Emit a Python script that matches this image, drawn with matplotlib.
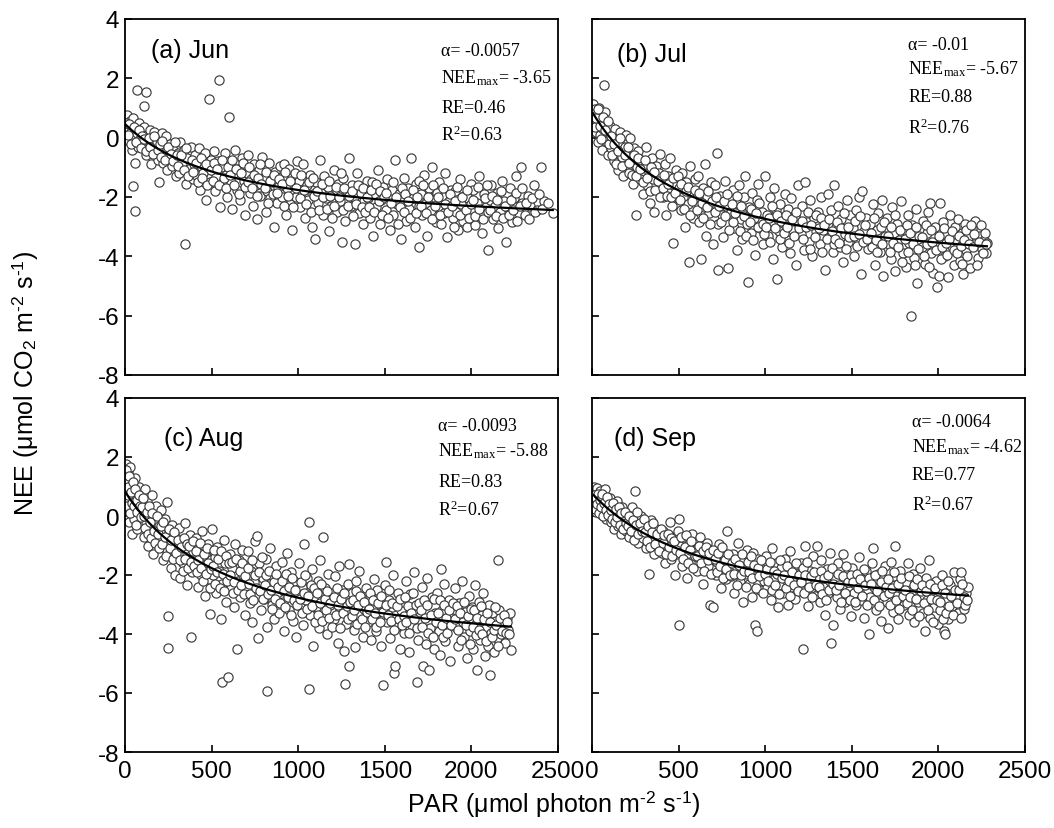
import matplotlib
matplotlib.use("Agg")
import matplotlib.pyplot as plt
import numpy as np

plt.rcParams["font.family"] = ["Liberation Sans", "DejaVu Sans"]
plt.rcParams["mathtext.fontset"] = "custom"
plt.rcParams["mathtext.rm"] = "Liberation Serif"
plt.rcParams["mathtext.it"] = "Liberation Serif:italic"
plt.rcParams["mathtext.bf"] = "Liberation Serif:bold"
plt.rcParams["mathtext.sf"] = "Liberation Sans"
plt.rcParams["axes.unicode_minus"] = False

# ---- half-hourly NEE vs PAR observations (PAR, NEE) ----
jun_obs = [
    (10, 0.75), (18, 0.35), (22, -0.1), (28, 0.55), (35, 0.2), (40, -0.4), (45, 0.65), (52, 0.0),
    (58, -0.85), (62, 0.4), (70, 0.15), (75, -0.3), (82, 0.5), (88, -0.05), (95, 0.3), (46, -1.63),
    (58, -2.47), (69, 1.6), (121, 1.54), (110, 1.07),
    (105, -0.2), (112, 0.35), (120, -0.6), (128, 0.1), (135, -0.35), (142, 0.25), (150, -0.9),
    (158, -0.1), (166, 0.2), (175, -0.5), (183, -0.15), (192, -0.75), (196, -1.5),
    (205, -0.3), (212, 0.15), (220, -0.85), (228, -0.45), (236, 0.05), (245, -1.1), (252, -0.6),
    (260, -0.2), (270, -0.95), (280, -0.4), (292, -1.3),
    (305, -0.5), (312, -1.2), (320, -0.15), (330, -0.85), (338, -0.4), (346, -3.58), (350, -1.55),
    (360, -0.7), (370, -1.05), (380, -0.3), (392, -1.4), (398, -0.9),
    (405, -0.6), (415, -1.3), (425, -0.35), (432, -1.75), (440, -0.95), (450, -1.2), (460, -0.5),
    (470, -2.1), (478, -1.0), (485, 1.3), (490, -1.5), (497, -0.75),
    (505, -1.1), (512, -0.45), (520, -1.8), (528, -1.3), (535, -0.8), (543, 1.94), (548, -2.35),
    (555, -1.0), (565, -1.6), (575, -0.5), (582, -1.25), (590, -2.0), (600, 0.7),
    (605, -0.9), (612, -1.5), (620, -2.4), (628, -1.2), (636, -0.4), (645, -1.75), (655, -1.05),
    (665, -2.1), (675, -0.7), (685, -1.45), (695, -2.6),
    (705, -1.2), (712, -0.6), (720, -1.85), (730, -1.4), (738, -2.3), (745, -0.9), (755, -1.6),
    (765, -2.75), (772, -1.1), (782, -1.95), (792, -0.65),
    (805, -1.35), (812, -2.5), (820, -1.8), (830, -0.85), (840, -2.05), (848, -1.5), (858, -3.0),
    (866, -1.15), (875, -2.2), (885, -1.65), (895, -0.95),
    (905, -2.0), (912, -1.3), (920, -0.9), (930, -2.6), (938, -1.7), (946, -1.05), (955, -2.25),
    (965, -3.1), (975, -1.55), (985, -2.0), (995, -0.8),
    (1005, -1.45), (1012, -2.35), (1022, -1.8), (1030, -0.9), (1040, -2.7), (1048, -1.6),
    (1058, -2.1), (1068, -1.25), (1078, -3.0), (1088, -1.9), (1096, -3.4),
    (1105, -1.5), (1115, -2.2), (1125, -0.75), (1132, -1.85), (1142, -2.6), (1150, -1.3),
    (1160, -2.05), (1170, -1.65), (1180, -3.15), (1190, -2.3),
    (1205, -1.1), (1212, -1.9), (1222, -2.5), (1230, -1.55), (1240, -2.15), (1250, -3.5),
    (1260, -1.35), (1270, -2.8), (1280, -1.8), (1292, -0.7),
    (1305, -2.3), (1312, -1.6), (1322, -2.0), (1330, -3.6), (1340, -1.2), (1350, -2.55),
    (1360, -1.85), (1372, -2.9), (1382, -2.15), (1395, -1.45),
    (1405, -2.05), (1415, -2.7), (1425, -1.5), (1432, -3.3), (1442, -1.9), (1452, -2.35),
    (1460, -1.1), (1470, -2.9), (1480, -2.1), (1492, -1.65),
    (1505, -2.45), (1512, -1.4), (1522, -2.0), (1532, -3.1), (1540, -1.75), (1550, -2.6),
    (1560, -0.75), (1570, -2.25), (1580, -1.9), (1592, -3.4),
    (1605, -2.1), (1612, -1.35), (1622, -2.8), (1632, -1.7), (1642, -2.4), (1650, -0.7),
    (1660, -2.05), (1672, -3.0), (1682, -1.55), (1695, -2.3), (1700, -3.7),
    (1708, -1.9), (1715, -2.6), (1725, -1.25), (1735, -2.2), (1745, -3.3), (1755, -1.7),
    (1765, -2.45), (1775, -1.0), (1785, -2.0), (1795, -2.85),
    (1805, -2.35), (1812, -1.5), (1822, -2.9), (1832, -1.95), (1842, -2.55), (1850, -1.2),
    (1860, -3.35), (1870, -2.15), (1880, -1.75), (1892, -2.7),
    (1905, -1.8), (1912, -2.5), (1922, -3.1), (1932, -1.4), (1942, -2.25), (1950, -2.8),
    (1960, -1.95), (1972, -3.0), (1982, -2.05), (1995, -1.55),
    (2005, -2.45), (2012, -1.75), (2022, -2.95), (2032, -2.2), (2042, -1.3), (2050, -2.6),
    (2060, -3.2), (2070, -1.9), (2082, -2.35), (2095, -3.8),
    (2105, -2.1), (2115, -1.6), (2125, -2.75), (2135, -2.3), (2145, -1.85), (2155, -3.05),
    (2165, -2.5), (2178, -1.45), (2190, -2.15), (2200, -3.5),
    (2210, -2.35), (2222, -1.7), (2235, -2.85), (2248, -2.05), (2260, -1.3), (2272, -2.55),
    (2285, -1.0), (2295, -2.2),
    (2310, -2.6), (2325, -1.95), (2340, -2.3), (2360, -1.6), (2380, -2.45), (2400, -1.0),
    (2420, -2.15), (2470, -2.55),
    (5, 0.5), (15, 0.1), (25, 0.45), (32, -0.2), (50, 0.35), (65, -0.15), (78, 0.25), (92, -0.35),
    (100, 0.05), (108, -0.05), (124, -0.45), (138, 0.0), (146, -0.3), (162, -0.55), (170, 0.05),
    (188, -0.4), (200, -0.2), (208, -0.65), (216, -0.1), (232, -0.75), (248, -0.3), (264, -0.55),
    (275, -0.8), (286, -0.15), (298, -0.6), (308, -0.95), (325, -0.6), (342, -1.1), (355, -0.35),
    (365, -1.3), (385, -0.75), (395, -1.15), (410, -0.85), (420, -1.5), (436, -0.7), (445, -1.35),
    (465, -0.9), (474, -1.6), (494, -1.1), (508, -1.45), (516, -0.85), (532, -1.05), (540, -1.6),
    (560, -0.75), (570, -1.35), (586, -1.7), (596, -1.0), (608, -1.25), (616, -0.75), (632, -1.6),
    (640, -1.05), (660, -1.9), (670, -1.2), (680, -0.85), (690, -1.65), (708, -1.5), (716, -1.0),
    (734, -1.7), (742, -1.25), (760, -1.95), (768, -1.35), (778, -0.9), (788, -1.55), (808, -1.7),
    (816, -1.15), (826, -2.2), (836, -1.45), (852, -1.9), (862, -1.25), (880, -1.85), (890, -1.4),
    (908, -1.55), (918, -2.3), (926, -1.15), (942, -1.95), (952, -1.45), (970, -2.35), (980, -1.2),
    (990, -1.7), (1008, -2.05), (1018, -1.25), (1035, -1.75), (1044, -2.25), (1062, -1.5),
    (1074, -2.5), (1084, -1.35), (1092, -1.95), (1110, -1.8), (1120, -2.45), (1138, -1.55),
    (1146, -2.0), (1164, -2.4), (1175, -1.45), (1186, -1.95), (1196, -2.7), (1208, -2.3),
    (1218, -1.65), (1235, -2.0), (1245, -1.2), (1256, -2.45), (1266, -1.7), (1285, -2.3),
    (1296, -1.95), (1308, -1.8), (1318, -2.65), (1336, -2.25), (1345, -1.6), (1366, -2.35),
    (1376, -1.7), (1388, -2.5), (1398, -2.0), (1410, -2.35), (1420, -1.75), (1436, -2.5),
    (1447, -1.55), (1465, -2.15), (1475, -1.8), (1486, -2.6), (1497, -2.0), (1508, -1.85),
    (1518, -2.7), (1536, -2.2), (1545, -1.5), (1565, -2.0), (1575, -2.9), (1586, -2.35),
    (1597, -1.7), (1608, -2.5), (1618, -1.9), (1636, -2.15), (1646, -2.7), (1665, -1.75),
    (1678, -2.55), (1688, -2.0), (1698, -1.45), (1711, -2.3), (1720, -1.6), (1740, -2.55),
    (1750, -2.0), (1770, -2.75), (1780, -1.6), (1790, -2.3), (1799, -1.85), (1808, -2.0),
    (1818, -2.6), (1836, -1.7), (1846, -2.25), (1865, -2.5), (1875, -1.9), (1886, -2.3),
    (1898, -3.0), (1908, -2.15), (1918, -1.65), (1936, -2.6), (1946, -2.0), (1966, -2.45),
    (1976, -1.75), (1988, -2.7), (1998, -2.25), (2008, -2.1), (2018, -2.65), (2036, -1.65),
    (2046, -2.4), (2065, -2.75), (2076, -2.05), (2088, -1.6), (2098, -2.5), (2110, -2.45),
    (2120, -1.95), (2140, -2.65), (2150, -2.1), (2170, -1.8), (2184, -2.7), (2195, -2.3),
    (2215, -2.6), (2228, -2.1), (2242, -2.45), (2255, -1.85), (2266, -2.8), (2278, -2.3),
    (2290, -1.7), (2318, -2.2), (2332, -2.75), (2350, -2.05), (2370, -2.5), (2390, -1.9),
    (2410, -2.4), (2440, -2.2),
]

jul_obs = [
    (8, 1.15), (12, 0.6), (18, 0.95), (22, 0.2), (28, 0.8), (33, -0.15), (38, 0.5), (42, 1.0),
    (48, 0.1), (55, 0.65), (60, -0.4), (66, 0.3), (69, 1.78), (74, 0.85), (80, -0.1), (86, 0.45),
    (92, -0.6), (97, 0.15),
    (104, 0.4), (110, -0.35), (118, 0.0), (125, -0.8), (132, 0.3), (140, -0.5), (148, -1.1),
    (156, -0.15), (164, 0.2), (172, -0.65), (180, -1.3), (188, -0.3), (196, 0.1),
    (204, -0.6), (212, -1.2), (220, 0.0), (228, -0.9), (236, -1.55), (244, -0.35), (252, -2.6),
    (260, -1.0), (268, -0.45), (276, -1.4), (284, -0.75), (292, -1.9),
    (304, -1.0), (312, -0.3), (320, -1.6), (328, -1.15), (336, -2.2), (344, -0.7), (352, -1.4),
    (360, -2.5), (368, -0.95), (376, -1.75), (384, -1.2), (394, -0.55),
    (404, -1.45), (412, -2.0), (420, -0.9), (428, -2.6), (436, -1.3), (444, -1.85), (452, -0.7),
    (460, -2.3), (470, -3.55), (478, -1.55), (486, -1.1), (494, -2.05),
    (504, -1.7), (512, -2.45), (520, -1.2), (528, -2.0), (536, -3.0), (544, -1.5), (552, -2.25),
    (560, -4.2), (568, -0.95), (576, -1.85), (586, -2.7), (596, -1.4),
    (604, -2.0), (612, -1.3), (620, -2.85), (630, -4.1), (638, -1.7), (646, -2.35), (650, -0.9),
    (658, -3.3), (666, -1.95), (676, -2.55), (686, -1.5), (696, -3.6),
    (704, -2.2), (712, -1.6), (720, -0.5), (728, -2.9), (730, -4.45), (738, -1.95), (748, -2.6),
    (756, -3.35), (766, -1.45), (776, -2.3), (786, -4.4), (796, -2.05),
    (804, -2.5), (812, -1.75), (822, -3.05), (830, -2.2), (840, -3.8), (848, -1.6), (858, -2.75),
    (868, -3.4), (876, -2.0), (886, -1.3), (896, -2.9), (900, -4.85),
    (908, -2.35), (916, -3.2), (924, -1.85), (934, -2.7), (942, -3.95), (950, -2.1), (960, -1.55),
    (970, -3.05), (980, -2.5), (990, -3.6), (998, -1.3),
    (1008, -2.6), (1016, -3.3), (1026, -2.0), (1034, -2.95), (1044, -4.1), (1052, -1.7),
    (1062, -2.45), (1070, -4.75), (1078, -3.15), (1088, -2.25), (1096, -3.7),
    (1105, -2.8), (1114, -1.9), (1124, -3.45), (1132, -2.4), (1142, -3.9), (1150, -2.05),
    (1160, -3.1), (1170, -2.65), (1180, -4.3), (1190, -1.6),
    (1205, -3.25), (1214, -2.3), (1224, -3.8), (1230, -1.5), (1240, -2.85), (1250, -3.5),
    (1260, -2.1), (1270, -4.0), (1280, -2.7), (1292, -3.15),
    (1305, -2.5), (1314, -3.6), (1324, -2.0), (1334, -3.1), (1344, -4.45), (1352, -2.8),
    (1362, -1.9), (1372, -3.35), (1382, -2.45), (1394, -3.85),
    (1400, -1.6), (1410, -3.0), (1420, -2.3), (1430, -3.7), (1440, -2.75), (1450, -4.2),
    (1460, -3.25), (1470, -2.1), (1480, -3.5), (1492, -2.6),
    (1505, -3.05), (1514, -4.0), (1524, -2.45), (1534, -3.4), (1544, -2.0), (1552, -4.6),
    (1560, -1.8), (1570, -3.15), (1580, -2.7), (1592, -3.75),
    (1605, -2.9), (1614, -3.5), (1624, -2.25), (1634, -4.3), (1644, -3.1), (1652, -2.55),
    (1662, -3.85), (1672, -2.1), (1682, -4.65), (1694, -3.3),
    (1705, -2.7), (1714, -3.6), (1724, -4.1), (1734, -2.35), (1744, -3.2), (1752, -4.5),
    (1762, -2.9), (1772, -3.45), (1782, -2.15), (1794, -3.9),
    (1805, -3.1), (1812, -4.35), (1822, -2.6), (1832, -3.55), (1840, -6.0), (1848, -2.95),
    (1858, -4.05), (1868, -2.4), (1878, -4.9), (1890, -3.3),
    (1905, -3.7), (1912, -2.8), (1922, -4.25), (1932, -3.2), (1942, -2.5), (1950, -2.2),
    (1960, -3.9), (1970, -4.55), (1980, -3.0), (1990, -5.05),
    (2002, -4.65), (2010, -2.2), (2018, -3.45), (2028, -2.85), (2038, -4.0), (2046, -3.25),
    (2056, -4.7), (2066, -2.6), (2076, -3.65), (2088, -4.3), (2096, -3.0),
    (2105, -3.5), (2114, -2.75), (2124, -4.15), (2134, -3.2), (2144, -4.6), (2152, -2.9),
    (2162, -3.8), (2172, -3.35), (2182, -4.4), (2192, -3.05),
    (2205, -3.6), (2214, -2.8), (2226, -4.05), (2238, -3.3), (2250, -3.75), (2262, -3.45),
    (2272, -3.9), (2280, -3.55),
    (5, 0.8), (15, 0.35), (25, 0.65), (35, 0.95), (45, 0.4), (52, -0.05), (63, 0.7), (77, 0.25),
    (90, 0.55), (100, -0.2), (107, 0.05), (115, -0.6), (128, -0.2), (136, -0.9), (152, -0.45),
    (160, 0.0), (176, -0.95), (192, -0.6), (208, -0.3), (216, -0.85), (232, -1.25), (240, -0.6),
    (256, -1.3), (264, -0.7), (280, -1.05), (296, -1.5), (308, -0.75), (316, -1.35), (332, -1.8),
    (340, -1.0), (356, -1.15), (364, -1.75), (380, -1.45), (390, -2.0), (408, -1.7), (416, -1.25),
    (432, -1.95), (440, -1.55), (456, -2.0), (465, -1.35), (482, -1.85), (498, -1.3), (508, -2.1),
    (516, -1.55), (532, -2.4), (540, -1.8), (556, -1.65), (564, -2.6), (580, -2.15), (592, -1.75),
    (608, -2.45), (616, -1.85), (634, -2.2), (642, -2.7), (662, -2.35), (670, -1.8), (682, -2.9),
    (692, -2.15), (708, -2.5), (716, -2.0), (734, -2.3), (742, -2.85), (760, -2.15), (770, -2.65),
    (780, -1.9), (792, -3.1), (808, -2.25), (816, -2.85), (826, -2.55), (836, -1.95), (852, -3.15),
    (862, -2.3), (880, -2.65), (892, -3.3), (912, -2.85), (920, -2.4), (930, -3.45), (946, -2.55),
    (956, -3.0), (965, -2.2), (985, -2.9), (994, -3.25), (1004, -3.0), (1020, -2.7), (1030, -3.5),
    (1040, -2.3), (1056, -3.05), (1066, -2.6), (1084, -3.4), (1092, -2.8), (1110, -3.2),
    (1118, -2.6), (1128, -3.0), (1138, -3.55), (1154, -2.75), (1165, -3.3), (1176, -2.5),
    (1195, -3.05), (1210, -2.8), (1218, -3.4), (1235, -3.0), (1246, -2.5), (1256, -3.75),
    (1266, -2.95), (1285, -3.35), (1296, -2.6), (1310, -3.05), (1320, -2.7), (1330, -3.85),
    (1340, -2.95), (1357, -3.4), (1367, -2.75), (1387, -3.15), (1397, -3.6), (1405, -3.4),
    (1415, -2.85), (1425, -3.55), (1436, -3.05), (1455, -2.55), (1465, -3.75), (1476, -3.0),
    (1486, -3.35), (1510, -3.3), (1519, -2.8), (1528, -3.65), (1540, -3.25), (1548, -2.65),
    (1565, -3.5), (1575, -2.95), (1588, -3.4), (1610, -3.2), (1619, -3.7), (1629, -2.7),
    (1640, -3.45), (1648, -3.85), (1667, -3.0), (1677, -3.6), (1688, -2.85), (1710, -3.3),
    (1719, -3.85), (1729, -3.0), (1740, -3.55), (1748, -2.6), (1767, -3.7), (1777, -3.1),
    (1789, -4.2), (1808, -3.4), (1817, -2.95), (1827, -3.85), (1836, -3.2), (1853, -3.6),
    (1863, -4.3), (1873, -3.0), (1884, -3.75), (1908, -3.35), (1917, -4.0), (1927, -2.95),
    (1937, -3.6), (1946, -4.35), (1955, -3.1), (1965, -3.5), (1985, -3.8), (2006, -3.3),
    (2014, -4.1), (2023, -3.7), (2033, -3.05), (2042, -3.55), (2051, -3.95), (2061, -3.4),
    (2081, -3.15), (2092, -3.8), (2110, -3.9), (2119, -3.3), (2129, -3.65), (2139, -4.25),
    (2148, -3.45), (2157, -3.1), (2167, -4.0), (2177, -3.6), (2187, -2.95), (2197, -3.7),
    (2208, -3.25), (2220, -4.3), (2232, -3.5), (2244, -2.95), (2256, -3.9), (2268, -3.2),
    (2276, -3.6),
]

aug_obs = [
    (5, 1.75), (10, 1.2), (14, 0.55), (18, 1.5), (22, -0.2), (26, 0.9), (30, 1.65), (34, 0.3),
    (38, -0.6), (42, 1.05), (46, 0.6), (50, -0.1), (55, 1.3), (60, 0.2), (65, 0.8), (70, -0.45),
    (75, 0.45), (82, 1.0), (88, -0.25), (94, 0.65),
    (102, 0.25), (108, -0.7), (114, 0.9), (120, -0.2), (128, 0.5), (134, -1.0), (140, 0.05),
    (148, -0.5), (155, 0.7), (162, -1.3), (170, -0.15), (178, 0.35), (186, -0.85), (194, -0.35),
    (204, -0.55), (210, 0.2), (218, -1.5), (226, -0.9), (232, -0.1), (240, -1.2), (243, 0.46),
    (246, -4.47), (250, -3.4), (256, -0.6), (264, -1.75), (272, -0.3), (280, -1.05), (290, -2.0),
    (296, -0.75),
    (304, -1.3), (312, -0.4), (320, -2.1), (328, -0.9), (336, -1.6), (344, -0.25), (352, -1.1),
    (360, -2.35), (368, -1.45), (376, -0.65), (379, -4.09), (386, -1.9), (394, -1.2),
    (404, -1.55), (412, -0.75), (420, -2.4), (428, -1.25), (436, -2.0), (444, -0.5), (452, -1.7),
    (460, -2.7), (470, -1.35), (478, -0.95), (486, -2.15), (491, -3.32), (496, -1.5),
    (504, -0.44), (510, -2.0), (518, -1.4), (526, -2.6), (534, -1.05), (542, -1.85), (552, -3.49),
    (558, -5.63), (562, -2.3), (570, -0.8), (578, -1.6), (586, -2.9), (594, -2.05), (597, -5.47),
    (604, -1.3), (612, -2.45), (620, -1.75), (628, -3.1), (636, -0.95), (645, -4.5), (650, -2.2),
    (658, -1.5), (666, -2.75), (674, -1.15), (682, -2.0), (690, -3.35), (698, -1.7),
    (704, -2.5), (712, -1.2), (720, -2.95), (728, -1.85), (736, -3.6), (744, -2.25), (752, -0.85),
    (760, -0.67), (766, -2.7), (770, -4.14), (776, -1.6), (786, -3.2), (796, -2.1),
    (804, -2.8), (812, -1.45), (818, -3.75), (822, -5.92), (830, -2.3), (838, -1.1), (846, -3.0),
    (854, -2.05), (862, -3.5), (870, -1.7), (880, -2.6), (890, -3.3), (898, -2.15),
    (904, -1.55), (912, -2.9), (920, -3.9), (928, -2.35), (936, -1.25), (944, -3.2), (952, -2.6),
    (960, -1.9), (970, -3.55), (978, -2.2), (988, -4.1), (996, -2.75),
    (1004, -1.6), (1012, -3.05), (1020, -2.4), (1028, -3.7), (1036, -0.95), (1044, -2.85),
    (1052, -2.1), (1063, -5.86), (1065, -0.21), (1070, -3.35), (1078, -1.8), (1086, -4.4),
    (1094, -2.55),
    (1104, -3.1), (1112, -2.2), (1120, -3.8), (1128, -1.5), (1136, -2.75), (1142, -0.72),
    (1148, -3.4), (1156, -2.45), (1164, -4.0), (1172, -1.95), (1182, -3.0), (1192, -2.6),
    (1204, -3.5), (1212, -2.05), (1220, -2.9), (1228, -4.3), (1236, -1.7), (1244, -3.2),
    (1252, -2.5), (1263, -4.56), (1271, -5.68), (1278, -3.65), (1286, -2.3), (1294, -5.1),
    (1296, -1.62),
    (1304, -3.0), (1312, -2.6), (1320, -3.85), (1328, -4.45), (1336, -2.2), (1344, -3.35),
    (1352, -1.85), (1362, -2.9), (1372, -4.1), (1382, -3.15), (1394, -2.45),
    (1404, -3.6), (1412, -2.7), (1422, -4.2), (1430, -3.05), (1440, -2.15), (1448, -3.9),
    (1456, -2.5), (1466, -3.3), (1476, -4.4), (1484, -2.9), (1492, -5.72), (1496, -3.45),
    (1504, -2.35), (1509, -1.57), (1514, -3.6), (1522, -2.85), (1530, -4.15), (1540, -3.1),
    (1548, -2.0), (1556, -5.32), (1560, -5.08), (1566, -3.75), (1576, -2.6), (1586, -4.5),
    (1594, -3.2),
    (1604, -2.9), (1612, -3.95), (1620, -2.2), (1630, -3.4), (1638, -4.6), (1646, -2.65),
    (1656, -3.7), (1666, -1.9), (1676, -3.15), (1684, -5.63), (1692, -4.2),
    (1704, -3.55), (1712, -2.4), (1723, -5.1), (1730, -3.0), (1738, -4.35), (1746, -2.1),
    (1756, -5.23), (1762, -3.8), (1772, -2.75), (1782, -4.5), (1792, -3.3),
    (1804, -2.6), (1812, -3.9), (1820, -4.7), (1825, -1.79), (1832, -3.2), (1840, -2.3),
    (1850, -4.25), (1858, -3.6), (1868, -2.85), (1878, -4.9), (1890, -3.45),
    (1904, -2.45), (1912, -3.75), (1920, -4.4), (1928, -2.95), (1938, -3.5), (1946, -2.2),
    (1956, -4.1), (1964, -3.25), (1974, -4.8), (1984, -2.7), (1994, -3.9),
    (2004, -3.1), (2012, -4.5), (2020, -2.35), (2028, -3.65), (2035, -5.22), (2042, -2.9),
    (2050, -4.2), (2060, -3.35), (2068, -2.6), (2076, -4.75), (2086, -3.8), (2096, -4.4),
    (2104, -3.0), (2110, -5.38), (2116, -3.95), (2124, -3.3), (2132, -4.6), (2140, -3.55),
    (2148, -4.15), (2154, -1.5), (2160, -3.2), (2170, -4.0), (2180, -3.65), (2192, -4.3),
    (2204, -3.45), (2212, -3.85), (2220, -3.3), (2227, -4.53),
    (3, 0.9), (8, 1.55), (12, 0.35), (16, 1.0), (20, 0.7), (24, 1.35), (28, 0.1), (36, 0.8),
    (40, 0.45), (48, 1.15), (53, 0.35), (58, 0.9), (62, -0.3), (68, 0.55), (72, 0.15), (79, 0.7),
    (85, 0.35), (91, -0.05), (97, 0.3), (105, 0.6), (111, 0.0), (117, -0.4), (125, 0.15),
    (131, -0.6), (137, 0.35), (145, -0.2), (152, -0.75), (158, 0.1), (166, -0.5), (174, -0.9),
    (182, 0.0), (190, -0.6), (198, -1.1), (207, -0.35), (214, -0.95), (222, -0.2), (230, -0.7),
    (236, -1.35), (254, -0.45), (260, -1.1), (268, -0.8), (276, -1.45), (285, -0.55),
    (294, -1.25), (308, -0.8), (316, -1.5), (324, -1.05), (332, -1.85), (340, -0.75),
    (348, -1.45), (356, -0.95), (364, -1.75), (372, -1.0), (382, -1.55), (390, -0.85),
    (398, -1.7), (408, -1.2), (416, -1.9), (424, -1.5), (432, -0.9), (440, -1.75), (448, -2.2),
    (456, -1.3), (466, -1.95), (474, -1.1), (482, -1.6), (490, -2.45), (499, -1.8), (507, -1.7),
    (514, -1.15), (522, -2.3), (530, -1.9), (538, -1.45), (546, -2.45), (556, -1.2), (566, -1.95),
    (574, -2.55), (582, -1.35), (590, -2.2), (599, -1.6), (608, -2.0), (616, -1.55), (624, -2.6),
    (632, -2.25), (640, -1.45), (654, -2.5), (662, -1.85), (670, -2.35), (678, -1.6),
    (686, -2.65), (694, -2.05), (708, -1.75), (716, -2.3), (724, -2.65), (732, -1.5),
    (740, -2.85), (748, -2.0), (756, -2.45), (772, -1.9), (780, -2.55), (790, -1.4), (799, -2.8),
    (808, -2.35), (816, -2.0), (826, -2.65), (834, -1.85), (842, -2.5), (850, -3.15),
    (858, -2.25), (866, -2.8), (874, -1.95), (886, -2.4), (894, -2.95), (908, -2.2), (916, -2.55),
    (924, -3.1), (932, -1.95), (940, -2.75), (948, -2.4), (956, -3.35), (964, -2.1), (974, -2.85),
    (984, -2.5), (992, -3.0), (1008, -2.8), (1016, -2.25), (1024, -3.3), (1032, -2.6),
    (1040, -2.0), (1048, -3.15), (1056, -2.7), (1074, -2.35), (1082, -3.05), (1090, -2.45),
    (1098, -3.6), (1108, -2.6), (1116, -3.35), (1124, -2.95), (1132, -2.3), (1140, -3.55),
    (1152, -2.8), (1160, -3.2), (1168, -2.55), (1178, -3.45), (1186, -2.95), (1196, -3.75),
    (1208, -2.75), (1216, -3.35), (1224, -2.45), (1232, -3.0), (1240, -3.8), (1248, -2.8),
    (1256, -3.3), (1266, -2.6), (1282, -3.05), (1290, -3.5), (1299, -2.9), (1308, -3.4),
    (1316, -2.85), (1324, -3.2), (1332, -2.55), (1340, -3.65), (1348, -3.0), (1358, -2.7),
    (1366, -3.5), (1378, -2.9), (1388, -3.75), (1398, -3.25), (1408, -3.15), (1416, -2.6),
    (1426, -3.5), (1434, -2.85), (1444, -3.3), (1452, -3.75), (1460, -2.95), (1470, -3.6),
    (1480, -2.7), (1488, -3.25), (1506, -3.0), (1518, -3.35), (1526, -2.5), (1534, -3.55),
    (1544, -2.95), (1552, -3.85), (1570, -3.05), (1580, -3.5), (1590, -2.8), (1598, -3.7),
    (1608, -3.4), (1616, -2.75), (1625, -3.6), (1634, -3.05), (1642, -3.95), (1650, -3.3),
    (1660, -2.6), (1670, -3.5), (1680, -3.0), (1688, -3.8), (1698, -2.95), (1708, -3.2),
    (1716, -3.75), (1726, -2.85), (1734, -3.45), (1742, -3.0), (1750, -3.95), (1766, -3.35),
    (1776, -4.1), (1786, -2.8), (1796, -3.6), (1808, -3.3), (1816, -2.85), (1828, -3.7),
    (1836, -4.1), (1844, -3.0), (1854, -3.45), (1862, -3.95), (1872, -3.2), (1882, -3.7),
    (1894, -2.95), (1908, -3.5), (1916, -3.05), (1924, -3.85), (1932, -3.3), (1942, -4.2),
    (1950, -3.6), (1960, -2.9), (1968, -3.7), (1978, -3.4), (1990, -4.35), (1998, -3.15),
    (2008, -3.75), (2016, -3.2), (2024, -4.05), (2032, -3.45), (2046, -3.85), (2055, -3.05),
    (2064, -4.0), (2072, -3.5), (2082, -4.25), (2092, -3.3), (2108, -3.6), (2120, -4.1),
    (2128, -3.85), (2136, -3.1), (2144, -3.7), (2152, -4.4), (2164, -3.45), (2176, -3.9),
    (2186, -3.35), (2198, -3.95), (2208, -3.6), (2216, -4.0),
]

sep_obs = [
    (10, 1.0), (15, 0.45), (20, 0.8), (25, 0.15), (30, 0.95), (36, 0.55), (42, 0.3), (48, 0.85),
    (55, 0.05), (60, 0.6), (68, 0.35), (75, 0.9), (82, -0.1), (90, 0.5), (97, 0.2),
    (104, 0.6), (110, -0.2), (118, 0.35), (126, -0.45), (134, 0.15), (142, 0.5), (150, -0.35),
    (158, 0.05), (166, -0.6), (175, 0.3), (184, -0.1), (194, -0.5),
    (204, 0.1), (212, -0.7), (220, -0.25), (230, 0.3), (238, -0.55), (248, 0.85), (256, -0.15),
    (264, -0.9), (272, -0.4), (282, 0.0), (292, -0.75),
    (304, -0.3), (312, -1.1), (322, -0.6), (330, -1.95), (340, -0.15), (348, -0.85), (358, -1.3),
    (368, -0.45), (378, -1.0), (390, -0.7),
    (404, -1.25), (412, -0.5), (422, -1.6), (430, -0.85), (440, -1.1), (448, -0.2), (458, -1.45),
    (468, -0.95), (478, -2.0), (488, -0.65), (496, -1.3), (500, -3.7),
    (504, -0.1), (512, -1.0), (520, -1.7), (530, -0.75), (540, -1.35), (548, -2.1), (558, -0.95),
    (568, -1.55), (578, -0.6), (590, -1.2),
    (604, -1.85), (612, -1.1), (622, -0.7), (632, -1.5), (642, -2.3), (652, -1.25), (662, -0.9),
    (672, -1.7), (684, -3.0), (692, -1.4), (700, -3.1),
    (706, -1.2), (714, -2.0), (724, -1.55), (734, -0.95), (744, -2.45), (752, -1.75), (762, -1.35),
    (772, -2.15), (780, -0.5), (792, -1.6),
    (804, -2.05), (812, -1.3), (822, -2.6), (832, -1.7), (842, -0.9), (852, -2.25), (862, -1.5),
    (872, -2.9), (884, -1.95), (894, -1.15),
    (904, -2.3), (912, -1.6), (922, -2.75), (930, -1.25), (940, -3.7), (948, -2.0), (952, -3.9),
    (960, -1.45), (970, -2.5), (982, -1.8), (994, -2.2),
    (1004, -1.35), (1012, -2.45), (1022, -1.9), (1032, -2.85), (1042, -1.1), (1052, -2.15),
    (1062, -1.6), (1072, -3.1), (1082, -2.35), (1094, -1.75),
    (1104, -2.6), (1112, -1.45), (1122, -2.05), (1132, -3.0), (1142, -1.2), (1150, -2.4),
    (1160, -1.75), (1172, -2.8), (1182, -1.95), (1194, -2.3),
    (1204, -1.6), (1212, -2.55), (1220, -4.5), (1228, -1.0), (1236, -2.2), (1246, -3.05),
    (1256, -1.85), (1266, -2.45), (1276, -1.35), (1288, -2.7), (1300, -1.0),
    (1306, -2.05), (1314, -2.9), (1324, -1.5), (1334, -2.4), (1344, -3.35), (1354, -1.8),
    (1364, -2.6), (1374, -1.25), (1380, -4.3), (1390, -3.7),
    (1404, -2.15), (1412, -2.75), (1422, -1.6), (1432, -3.15), (1442, -2.35), (1452, -1.3),
    (1462, -2.9), (1472, -1.95), (1482, -2.55), (1494, -3.4),
    (1504, -1.75), (1512, -2.6), (1522, -3.0), (1532, -2.1), (1542, -1.4), (1552, -2.85),
    (1562, -2.3), (1572, -3.45), (1582, -1.85), (1594, -2.5),
    (1600, -4.0), (1606, -2.75), (1614, -1.6), (1620, -1.1), (1630, -2.4), (1640, -3.2),
    (1650, -1.95), (1660, -2.65), (1670, -3.55), (1680, -2.15), (1692, -1.7),
    (1704, -2.9), (1710, -3.8), (1718, -2.3), (1726, -1.55), (1736, -3.25), (1746, -2.05),
    (1750, -1.0), (1758, -2.7), (1768, -3.5), (1778, -1.85), (1790, -2.45),
    (1804, -3.0), (1812, -2.25), (1822, -1.6), (1832, -3.35), (1842, -2.6), (1852, -1.95),
    (1862, -3.6), (1872, -2.4), (1882, -2.9), (1894, -1.75),
    (1904, -2.7), (1912, -3.3), (1920, -3.9), (1926, -2.1), (1934, -2.85), (1944, -1.5),
    (1954, -3.45), (1964, -2.5), (1974, -3.1), (1986, -2.2), (1996, -3.65),
    (2004, -2.55), (2012, -3.2), (2022, -2.0), (2030, -3.9), (2040, -4.0), (2048, -2.8),
    (2058, -3.5), (2068, -2.35), (2078, -3.05), (2090, -1.9),
    (2104, -2.7), (2114, -3.3), (2124, -2.15), (2130, -1.9), (2138, -2.95), (2150, -3.15),
    (2160, -2.6), (2170, -2.4),
    (12, 0.7), (18, 0.25), (22, 0.6), (28, 0.4), (33, 0.75), (39, 0.1), (45, 0.55), (52, 0.3),
    (58, 0.75), (64, 0.0), (72, 0.45), (78, 0.2), (86, 0.65), (94, 0.05), (100, 0.4), (107, 0.2),
    (114, -0.1), (122, 0.45), (130, -0.2), (138, 0.25), (146, -0.05), (154, 0.3), (162, -0.3),
    (170, 0.1), (180, -0.45), (190, 0.15), (198, -0.25), (208, -0.35), (216, 0.0), (226, -0.5),
    (234, -0.15), (242, -0.8), (252, -0.3), (260, 0.15), (268, -0.6), (278, -0.25), (288, -0.5),
    (298, -0.1), (308, -0.55), (318, -0.85), (326, -0.35), (336, -1.05), (344, -0.55),
    (354, -0.25), (364, -0.95), (374, -0.6), (384, -1.2), (396, -0.45), (408, -0.9), (418, -0.65),
    (426, -1.3), (436, -0.6), (446, -1.05), (454, -0.75), (464, -1.35), (474, -0.85),
    (484, -1.15), (494, -0.5), (508, -1.25), (516, -0.7), (526, -1.45), (536, -1.05),
    (544, -0.65), (554, -1.6), (564, -1.15), (574, -0.85), (584, -1.75), (596, -1.35),
    (608, -1.35), (618, -1.0), (628, -1.6), (638, -1.2), (648, -1.85), (658, -1.05), (668, -1.5),
    (678, -1.25), (688, -1.95), (698, -1.15), (710, -1.45), (720, -1.9), (730, -1.25),
    (740, -1.7), (748, -1.05), (758, -2.1), (768, -1.5), (776, -1.8), (788, -1.3), (798, -2.0),
    (808, -1.6), (818, -1.95), (828, -1.45), (838, -2.35), (848, -1.65), (858, -2.0), (868, -1.3),
    (878, -1.85), (888, -2.4), (898, -1.55), (908, -1.9), (918, -1.35), (926, -2.1), (936, -1.65),
    (944, -2.45), (956, -1.75), (966, -2.05), (976, -1.5), (988, -2.6), (998, -1.95),
    (1008, -1.8), (1018, -2.2), (1028, -1.55), (1038, -2.5), (1048, -1.85), (1058, -2.35),
    (1068, -1.95), (1078, -2.65), (1088, -1.5), (1098, -2.1), (1108, -2.0), (1118, -2.45),
    (1128, -1.7), (1138, -2.2), (1146, -2.7), (1156, -1.9), (1166, -2.35), (1178, -1.6),
    (1188, -2.55), (1198, -2.0), (1208, -2.25), (1216, -1.75), (1226, -2.6), (1232, -2.0),
    (1242, -1.55), (1252, -2.4), (1262, -2.05), (1272, -2.75), (1282, -1.9), (1294, -2.35),
    (1310, -2.4), (1320, -1.85), (1330, -2.65), (1340, -2.1), (1350, -2.85), (1360, -2.0),
    (1370, -2.5), (1384, -1.75), (1394, -2.3), (1408, -2.5), (1418, -1.95), (1428, -2.35),
    (1438, -2.9), (1448, -2.05), (1458, -2.6), (1468, -1.7), (1478, -2.25), (1488, -2.85),
    (1498, -2.0), (1508, -2.25), (1518, -2.9), (1528, -1.95), (1538, -2.45), (1548, -2.15),
    (1558, -2.7), (1568, -1.8), (1578, -2.35), (1588, -3.0), (1598, -2.1), (1610, -2.3),
    (1626, -2.85), (1636, -2.0), (1646, -2.55), (1656, -3.05), (1666, -2.25), (1676, -1.85),
    (1686, -2.7), (1696, -2.4), (1707, -2.15), (1714, -2.6), (1722, -3.0), (1732, -2.45),
    (1742, -1.9), (1754, -2.85), (1764, -2.3), (1774, -3.15), (1784, -2.1), (1796, -2.7),
    (1808, -2.5), (1818, -2.95), (1828, -2.05), (1838, -2.75), (1848, -3.2), (1858, -2.35),
    (1868, -2.8), (1878, -2.15), (1888, -3.4), (1898, -2.55), (1908, -2.35), (1916, -2.95),
    (1930, -2.55), (1940, -3.2), (1950, -2.3), (1960, -2.8), (1970, -3.6), (1980, -2.45),
    (1992, -2.85), (2008, -2.9), (2018, -2.35), (2026, -3.5), (2036, -2.6), (2044, -3.3),
    (2054, -2.2), (2064, -3.05), (2074, -2.7), (2086, -3.35), (2096, -2.5), (2108, -2.95),
    (2118, -2.5), (2128, -3.45), (2136, -2.3), (2146, -2.75), (2156, -3.0), (2166, -2.85),
]

# ---- rectangular-hyperbola fit parameters per month ----
panel_titles = ["(a) Jun", "(b) Jul", "(c) Aug", "(d) Sep"]
alpha_vals = ["-0.0057", "-0.01", "-0.0093", "-0.0064"]
neemax_vals = ["-3.65", "-5.67", "-5.88", "-4.62"]
re_vals = ["0.46", "0.88", "0.83", "0.77"]
r2_vals = ["0.63", "0.76", "0.67", "0.67"]

x_ticks = [0, 500, 1000, 1500, 2000, 2500]
y_ticks = [4, 2, 0, -2, -4, -6, -8]

observations = [jun_obs, jul_obs, aug_obs, sep_obs]


def light_response(par, a, pmax, re):
    return a * par * pmax / (a * par + pmax) + re


W, H = 1054, 829
fig = plt.figure(figsize=(W / 100, H / 100), dpi=100)

# axes rectangles in pixels: (left, top, right, bottom)
boxes = [(125, 20, 558, 376), (592, 20, 1025, 376),
         (125, 399, 558, 753), (592, 399, 1025, 753)]

# title anchor (axes fraction) and stats block positions
title_pos = [(0.060, 0.913), (0.058, 0.902), (0.090, 0.887), (0.051, 0.887)]
stats_x = [0.730, 0.730, 0.723, 0.739]
stats_y = [(0.916, 0.843, 0.758, 0.683), (0.935, 0.868, 0.787, 0.702),
           (0.929, 0.859, 0.771, 0.692), (0.940, 0.870, 0.790, 0.705)]

for i, (obs, box) in enumerate(zip(observations, boxes)):
    l, t, r, b = box
    ax = fig.add_axes([l / W, 1 - b / H, (r - l) / W, (b - t) / H])
    pts = np.array(obs)
    ax.scatter(pts[:, 0], pts[:, 1], s=44, facecolors="white", edgecolors="#3c3c3c",
               linewidths=0.85, zorder=2)

    a = float(alpha_vals[i])
    pm = float(neemax_vals[i])
    re = float(re_vals[i])
    xs = np.linspace(pts[:, 0].min(), pts[:, 0].max(), 300)
    ax.plot(xs, light_response(xs, a, pm, re), color="black", lw=1.6, zorder=3)

    ax.set_xlim(0, 2500)
    ax.set_ylim(-8, 4)
    ax.set_xticks(x_ticks)
    ax.set_yticks(y_ticks)
    ax.tick_params(direction="in", length=5, width=1.2, top=False, right=False,
                   labelsize=17.5)
    ax.tick_params(axis="x", pad=6)
    ax.tick_params(axis="y", pad=4)
    for sp in ax.spines.values():
        sp.set_linewidth(1.3)
    if i < 2:
        ax.tick_params(labelbottom=False)
    if i % 2 == 1:
        ax.tick_params(labelleft=False)

    ax.text(title_pos[i][0], title_pos[i][1], panel_titles[i], transform=ax.transAxes,
            fontsize=18, ha="left", va="center")

    lines = ["α= " + alpha_vals[i],
             "NEE$_{\\mathrm{max}}$= " + neemax_vals[i],
             "RE=" + re_vals[i],
             "R$^{2}$=" + r2_vals[i]]
    for txt, yy in zip(lines, stats_y[i]):
        ax.text(stats_x[i], yy, txt, transform=ax.transAxes, fontsize=13,
                family="Liberation Serif", ha="left", va="center_baseline")

fig.text(554 / W, 1 - 812 / H,
         "PAR (μmol photon m$^{\\mathsf{\u2010}\\mathsf{2}}$ s$^{\\mathsf{\u2010}\\mathsf{1}}$)",
         fontsize=18, ha="center", va="baseline")
fig.text(33 / W, 0.538,
         "NEE (μmol CO$_{\\mathsf{2}}$ m$^{\\mathsf{\u2010}\\mathsf{2}}$ s$^{\\mathsf{\u2010}\\mathsf{1}}$)",
         fontsize=18, ha="center", va="baseline", rotation=90, rotation_mode="anchor")

fig.savefig("out.png", dpi=100)
